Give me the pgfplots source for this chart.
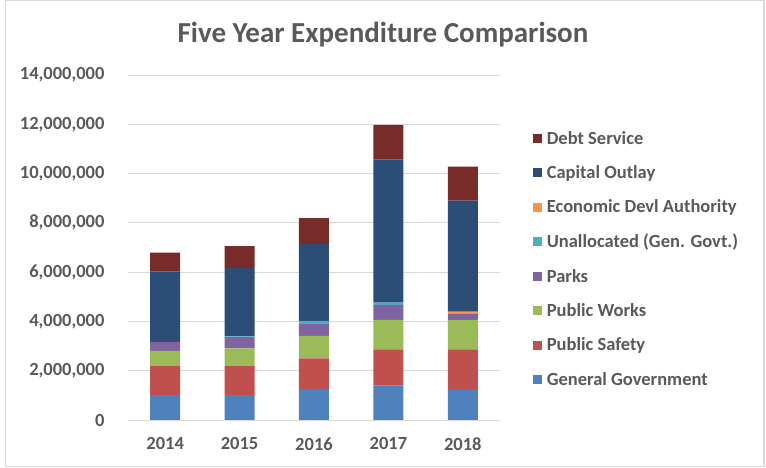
\documentclass[border=0pt]{standalone}
\usepackage{fontspec}
\setmainfont{Carlito}
\usepackage{pgfplots}
\usepackage{pgfplotstable}
\pgfplotsset{compat=1.18}

\definecolor{txt}{HTML}{595959}
\definecolor{gridc}{HTML}{D9D9D9}
\definecolor{cGG}{HTML}{4F81BD}
\definecolor{cPS}{HTML}{C0504D}
\definecolor{cPW}{HTML}{9BBB59}
\definecolor{cPK}{HTML}{8064A2}
\definecolor{cUN}{HTML}{4BACC6}
\definecolor{cED}{HTML}{F79646}
\definecolor{cCO}{HTML}{2C4D75}
\definecolor{cDS}{HTML}{772C2A}

% values
\pgfplotstableread{
x  GG      PS      PW      PK     UN     ED     CO      DS
0  1010000 1180000 610000  370000 0      0      2850000 770000
1  1010000 1180000 720000  450000 30000  0      2770000 900000
2  1260000 1240000 910000  510000 100000 0      3120000 1050000
3  1410000 1460000 1190000 610000 90000  0      5820000 1400000
4  1220000 1650000 1190000 270000 0      70000  4500000 1380000
}\expdata

\begin{document}
\begin{tikzpicture}
\begin{axis}[
    name=ax,
    scale only axis,
    width=372pt, height=345pt,
    ybar stacked,
    bar width=30pt,
    xmin=-0.5, xmax=4.5,
    ymin=0, ymax=14000000,
    ytick={0,2000000,...,14000000},
    scaled y ticks=false,
    yticklabel style={
        /pgf/number format/.cd, fixed, 1000 sep={,}, assume math mode=true,
        /tikz/.cd, font=\fontsize{18.5}{20}\selectfont\bfseries, text=txt, xshift=-20pt},
    xtick=data,
    xticklabels={2014,2015,2016,2017,2018},
    xticklabel style={font=\fontsize{18.5}{20}\selectfont\bfseries, text=txt, yshift=-14pt},
    major tick length=0pt,
    ymajorgrids,
    grid style={gridc, line width=0.8pt},
    axis x line*=bottom,
    axis y line*=left,
    x axis line style={gridc, line width=0.8pt, -},
    y axis line style={draw=none},
    every axis plot/.append style={draw=none},
    legend image code/.code={\fill[#1] (0pt,-4.5pt) rectangle (9pt,4.5pt);},
    reverse legend,
    legend cell align=left,
    legend style={at={(1.089,0.84)}, anchor=north west, draw=none, fill=none,
        font=\fontsize{18.5}{20}\selectfont\bfseries, text=txt,
        inner sep=0pt, row sep=17.8pt,
        nodes={inner xsep=4.5pt, inner ysep=1pt}},
]
\addplot[fill=cGG] table[x=x,y=GG] {\expdata};
\addplot[fill=cPS] table[x=x,y=PS] {\expdata};
\addplot[fill=cPW] table[x=x,y=PW] {\expdata};
\addplot[fill=cPK] table[x=x,y=PK] {\expdata};
\addplot[fill=cUN] table[x=x,y=UN] {\expdata};
\addplot[fill=cED] table[x=x,y=ED] {\expdata};
\addplot[fill=cCO] table[x=x,y=CO] {\expdata};
\addplot[fill=cDS] table[x=x,y=DS] {\expdata};
\legend{General Government,Public Safety,Public Works,Parks,Unallocated (Gen. Govt.),Economic Devl Authority,Capital Outlay,Debt Service}
\end{axis}
\begin{scope}[shift={(ax.south west)}, x=1pt, y=1pt]
\draw[gridc,line width=1.2pt] (-122.5,-46.7) rectangle (636,419.3);
\node[font=\fontsize{29}{33}\selectfont\bfseries,text=txt] at (255,385) {Five Year Expenditure Comparison};
\pgfresetboundingbox
\path[use as bounding box] (-128,-48) rectangle (638,420);
\end{scope}
\end{tikzpicture}
\end{document}
